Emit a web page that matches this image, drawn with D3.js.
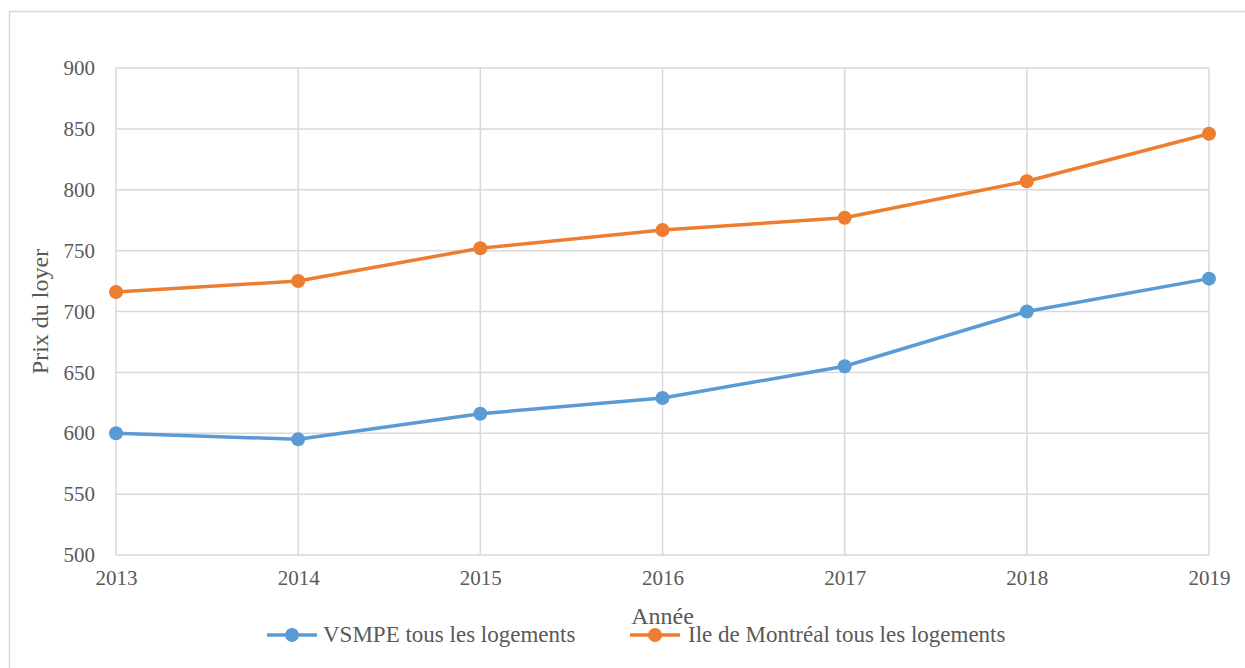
<!DOCTYPE html>
<html>
<head>
<meta charset="utf-8">
<script src="https://cdn.jsdelivr.net/npm/d3@7"></script>
<style>
  html, body { margin: 0; padding: 0; background: #fff; }
  svg { display: block; }
</style>
</head>
<body>
<svg id="chart" width="1245" height="668"></svg>
<script>
// Loyer moyen par année
const years = [2013, 2014, 2015, 2016, 2017, 2018, 2019];
const vsmpe = [600, 595, 616, 629, 655, 700, 727];
const montreal = [716, 725, 752, 767, 777, 807, 846];
const yTicks = [500, 550, 600, 650, 700, 750, 800, 850, 900];
const seriesNames = ["VSMPE tous les logements", "Ile de Montréal tous les logements"];
const seriesColors = ["#5b9bd5", "#ed7d31"];

const FONT = "'Liberation Serif', 'Times New Roman', 'DejaVu Serif', serif";
const TEXT_COLOR = "#595959";

const svg = d3.select("#chart");
const W = 1245, H = 668;
const plot = { left: 116, right: 1209, top: 68, bottom: 555 };

// Chart frame
svg.append("rect")
  .attr("x", 9.5).attr("y", 11.5)
  .attr("width", W).attr("height", H)
  .attr("fill", "none").attr("stroke", "#d9d9d9").attr("stroke-width", 1.5);

const x = d3.scaleLinear().domain([2013, 2019]).range([plot.left, plot.right]);
const y = d3.scaleLinear().domain([500, 900]).range([plot.bottom, plot.top]);

// Gridlines
svg.append("g").selectAll("line.h").data(yTicks).join("line")
  .attr("x1", plot.left).attr("x2", plot.right)
  .attr("y1", d => y(d)).attr("y2", d => y(d))
  .attr("stroke", "#d9d9d9").attr("stroke-width", 1.5);
svg.append("g").selectAll("line.v").data(years).join("line")
  .attr("x1", d => x(d)).attr("x2", d => x(d))
  .attr("y1", plot.top).attr("y2", plot.bottom)
  .attr("stroke", "#d9d9d9").attr("stroke-width", 1.5);

function styleText(sel, size) {
  sel.style("font-family", FONT).style("font-size", size + "px").style("fill", TEXT_COLOR);
}

// Axes
const yAxis = d3.axisLeft(y).tickValues(yTicks).tickSize(0).tickPadding(21);
const gy = svg.append("g").attr("transform", `translate(${plot.left},0)`).call(yAxis);
gy.select(".domain").remove();
styleText(gy.selectAll("text"), 21);

const xAxis = d3.axisBottom(x).tickValues(years).tickFormat(d3.format("d")).tickSize(0).tickPadding(15);
const gx = svg.append("g").attr("transform", `translate(0,${plot.bottom})`).call(xAxis);
gx.select(".domain").remove();
styleText(gx.selectAll("text"), 21);

// Axis titles
styleText(svg.append("text")
  .attr("transform", `translate(48,${(plot.top + plot.bottom) / 2}) rotate(-90)`)
  .attr("text-anchor", "middle")
  .text("Prix du loyer"), 24);
styleText(svg.append("text")
  .attr("x", (plot.left + plot.right) / 2).attr("y", 624)
  .attr("text-anchor", "middle")
  .text("Année"), 24);

// Series
const line = d3.line().x((d, i) => x(years[i])).y(d => y(d));
[vsmpe, montreal].forEach((vals, k) => {
  const g = svg.append("g");
  g.append("path").datum(vals)
    .attr("d", line).attr("fill", "none")
    .attr("stroke", seriesColors[k]).attr("stroke-width", 3.5)
    .attr("stroke-linejoin", "round");
  g.selectAll("circle").data(vals).join("circle")
    .attr("cx", (d, i) => x(years[i])).attr("cy", d => y(d))
    .attr("r", 7).attr("fill", seriesColors[k]);
});

// Legend
const legendItems = [
  { x: 267, textX: 323 },
  { x: 630, textX: 688 }
];
legendItems.forEach((it, k) => {
  const cy = 635;
  svg.append("line")
    .attr("x1", it.x).attr("x2", it.x + 50).attr("y1", cy).attr("y2", cy)
    .attr("stroke", seriesColors[k]).attr("stroke-width", 3.5);
  svg.append("circle").attr("cx", it.x + 25).attr("cy", cy).attr("r", 7).attr("fill", seriesColors[k]);
  styleText(svg.append("text").attr("x", it.textX).attr("y", cy + 7)
    .text(seriesNames[k]), 23);
});
</script>
</body>
</html>
